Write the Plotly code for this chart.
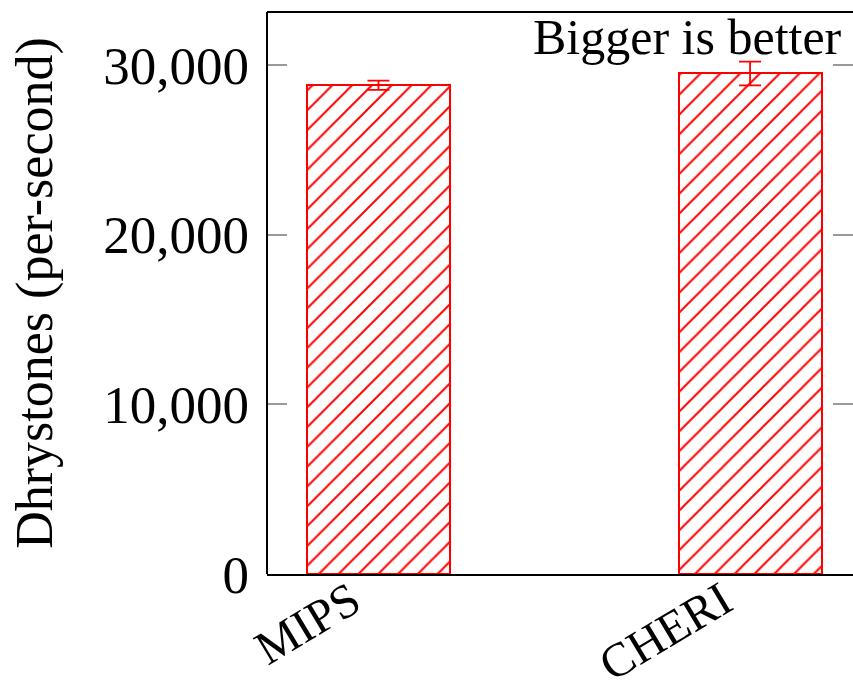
import plotly.graph_objects as go

# Benchmark results
systems = ["MIPS", "CHERI"]
dhrystones = [28800, 29500]
dhrystones_err = [270, 700]
y_ticks = [0, 10000, 20000, 30000]
y_tick_labels = ["0", "10,000", "20,000", "30,000"]

SERIF = "Liberation Serif, Times New Roman, serif"
x_pos = list(range(len(systems)))

fig = go.Figure()
fig.add_trace(go.Bar(
    x=x_pos,
    y=dhrystones,
    width=0.385,
    marker=dict(
        color="rgba(0,0,0,0)",
        line=dict(color="red", width=2),
        pattern=dict(shape="/", fgcolor="red", bgcolor="white",
                     size=14, solidity=0.14, fillmode="replace"),
    ),
    error_y=dict(type="data", array=dhrystones_err, color="red",
                 thickness=1.8, width=11),
    showlegend=False,
))

fig.update_layout(
    width=853, height=682,
    margin=dict(l=267, r=0, t=12, b=108),
    paper_bgcolor="white", plot_bgcolor="white",
    font=dict(family=SERIF, size=50, color="black"),
    bargap=0,
    xaxis=dict(
        range=[-0.3, 1.277],
        tickvals=x_pos, ticktext=systems,
        tickangle=-31,
        ticks="", showgrid=False, zeroline=False,
        showline=True, linecolor="black", linewidth=2,
        tickfont=dict(size=48),
        ticklabelstandoff=-22, ticklabelshift=-27,
        automargin=False,
    ),
    yaxis=dict(
        range=[0, 33120],
        tickvals=y_ticks, ticktext=y_tick_labels,
        ticks="inside", ticklen=20, tickcolor="#999999", tickwidth=1.5,
        mirror="ticks", showline=False,
        ticklabelstandoff=17,
        showgrid=False, zeroline=False,
        tickfont=dict(size=53),
        automargin=False,
        title=dict(text="Dhrystones (per-second)", standoff=34,
                   font=dict(size=52)),
    ),
    shapes=[
        dict(type="line", xref="paper", yref="paper", x0=0, x1=0, y0=0, y1=1,
             line=dict(color="black", width=2)),
        dict(type="line", xref="paper", yref="paper", x0=0, x1=1, y0=1, y1=1,
             line=dict(color="black", width=2)),
    ],
    annotations=[
        dict(text="Bigger is better", xref="paper", yref="paper",
             x=0.985, y=1.0, xanchor="right", yanchor="top", yshift=5,
             showarrow=False, font=dict(size=50, color="black")),
    ],
)

fig.write_html("out.html")
